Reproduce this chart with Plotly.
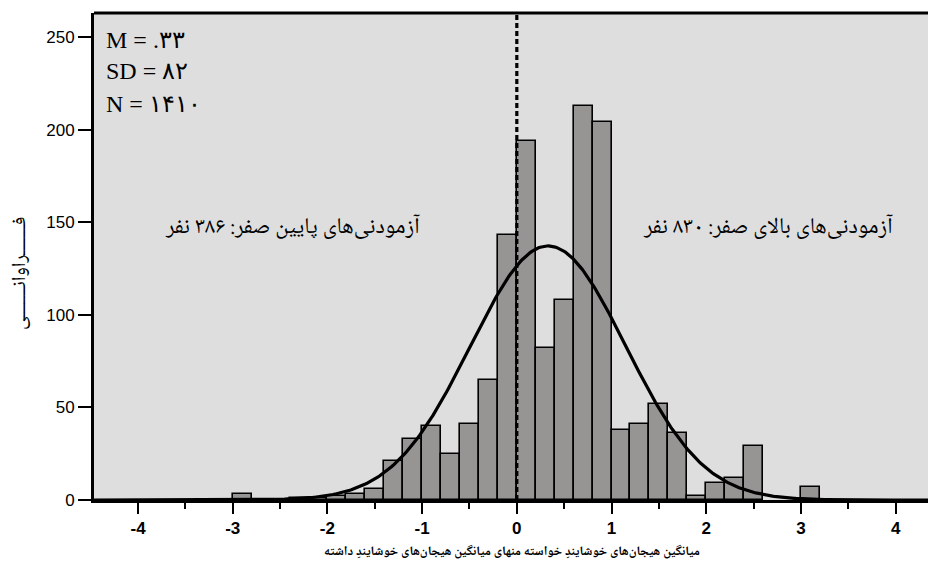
import numpy as np
import plotly.graph_objects as go

# ---- data ----
bin_centers = [-2.9, -2.7, -2.5, -2.3, -2.1, -1.9, -1.7, -1.5, -1.3, -1.1, -0.9, -0.7, -0.5, -0.3, -0.1,
               0.1, 0.3, 0.5, 0.7, 0.9, 1.1, 1.3, 1.5, 1.7, 1.9, 2.1, 2.3, 2.5, 2.7, 2.9, 3.1]
counts = [3, 0, 0, 1, 1, 2, 3, 6, 21, 33, 40, 25, 41, 65, 143,
          194, 82, 108, 213, 204, 38, 41, 52, 36, 2, 9, 12, 29, 0, 0, 7]
bin_width = 0.2
mean_val = 0.33
sd_val = 0.82
n_val = 1410

x_tick_vals = [-4, -3, -2, -1, 0, 1, 2, 3, 4]
y_tick_vals = [0, 50, 100, 150, 200, 250]

stats_lines = ["M = .۳۳", "SD = ۸۲", "N = ۱۴۱۰"]
left_note = "آزمودنی‌های پایین صفر: ۳۸۶ نفر"
right_note = "آزمودنی‌های بالای صفر: ۸۳۰ نفر"
y_title = "فـــــــراوانـــــــی"
x_title = "میانگین هیجان‌های خوشایندِ خواسته منهای میانگین هیجان‌های خوشایندِ داشته"

X_RANGE = [-4.465, 4.342]
Y_RANGE = [0, 263]

bx = [c for c, v in zip(bin_centers, counts) if v > 0]
by = [v for v in counts if v > 0]

# fitted normal curve from the stated M, SD, N
xs = np.linspace(X_RANGE[0], X_RANGE[1], 500)
ys = n_val * bin_width / (sd_val * np.sqrt(2 * np.pi)) * np.exp(-0.5 * ((xs - mean_val) / sd_val) ** 2)

fig = go.Figure()
fig.add_trace(go.Bar(
    x=bx, y=by, width=bin_width,
    marker=dict(color="#979494", line=dict(color="black", width=1.6)),
    hoverinfo="skip",
))
fig.add_trace(go.Scatter(
    x=xs, y=ys, mode="lines",
    line=dict(color="black", width=3.2),
    hoverinfo="skip",
))

# dashed zero line
fig.add_shape(type="line", xref="x", yref="paper", x0=0, x1=0, y0=0, y1=1,
              line=dict(color="black", width=3.2, dash="5px,3px"), layer="above")
# top border
fig.add_shape(type="line", xref="paper", yref="paper", x0=0, x1=1, y0=1, y1=1,
              line=dict(color="black", width=3), layer="above")

serif = "Liberation Serif, Times New Roman, serif"
arab = "Noto Naskh Arabic, DejaVu Sans, sans-serif"

PH = 487.0
PW = 834.0
def px_x(p):
    return (p - 94) / PW
def px_y(p):
    return (500 - p) / PH

for t, yy in zip(stats_lines, [40, 71, 104]):
    fig.add_annotation(text=t, xref="paper", yref="paper", x=px_x(104), y=px_y(yy),
                       xanchor="left", yanchor="middle", showarrow=False,
                       font=dict(family=serif, size=24, color="black"))

fig.add_annotation(text=left_note, xref="paper", yref="paper", x=px_x(293), y=px_y(228),
                   xanchor="center", yanchor="middle", showarrow=False,
                   font=dict(family=arab, size=22.5, color="black"))
fig.add_annotation(text=right_note, xref="paper", yref="paper", x=px_x(768), y=px_y(228),
                   xanchor="center", yanchor="middle", showarrow=False,
                   font=dict(family=arab, size=22.5, color="black"))

fig.add_annotation(text=y_title, xref="paper", yref="paper", x=px_x(21), y=px_y(274),
                   xanchor="center", yanchor="middle", showarrow=False, textangle=-90,
                   font=dict(family=arab, size=20, color="black"))

fig.add_annotation(text="<b>" + x_title + "</b>", xref="paper", yref="paper", x=px_x(512),
                   y=px_y(552), xanchor="center", yanchor="middle", showarrow=False,
                   font=dict(family=arab, size=13, color="black"))

fig.update_layout(
    width=928, height=575,
    margin=dict(l=94, r=0, t=13, b=75),
    paper_bgcolor="white", plot_bgcolor="#dedede",
    showlegend=False, bargap=0,
    xaxis=dict(range=X_RANGE, tickvals=x_tick_vals, ticktext=[str(v) for v in x_tick_vals],
               ticks="outside", ticklen=11, tickwidth=1.5, tickcolor="black",
               minor=dict(tickvals=[-3.5, -2.5, -1.5, -0.5, 0.5, 1.5, 2.5, 3.5], ticks="outside",
                          ticklen=6, tickwidth=1.5, tickcolor="black"),
               showline=True, linecolor="black", linewidth=3, showgrid=False, zeroline=False,
               tickfont=dict(family="Liberation Sans Narrow, Liberation Sans, Arial, sans-serif",
                             size=17, color="black", weight="bold"),
               fixedrange=True),
    yaxis=dict(range=Y_RANGE, tickvals=y_tick_vals, ticks="outside", ticklen=13, tickwidth=1.5,
               tickcolor="black", showline=True, linecolor="black", linewidth=3, showgrid=False,
               zeroline=False,
               tickfont=dict(family="Liberation Sans, Arial, sans-serif", size=17, color="black"),
               fixedrange=True),
)

fig.write_html("out.html", config={"displayModeBar": False},
               post_script="document.body.style.margin='0';document.body.style.overflow='hidden';")
